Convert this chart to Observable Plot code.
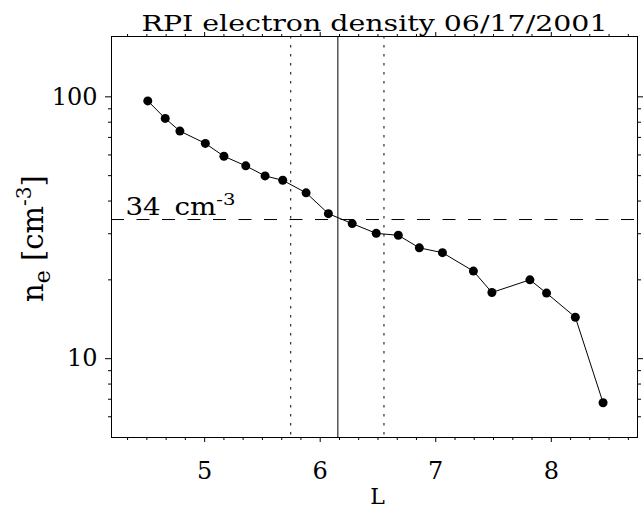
<!DOCTYPE html>
<html><head><meta charset="utf-8">
<script src="https://cdn.jsdelivr.net/npm/d3@7"></script>
<script src="https://cdn.jsdelivr.net/npm/@observablehq/plot@0.6"></script>
<style>html,body{margin:0;padding:0;background:#fff}</style>
</head><body><div id="chart"></div>
<script>
const L  = [4.508, 4.659, 4.786, 5.006, 5.167, 5.356, 5.523, 5.676, 5.878, 6.071, 6.277, 6.485, 6.676, 6.858, 7.058, 7.326, 7.486, 7.815, 7.959, 8.208, 8.448];
const ne = [96.5, 82.7, 74.0, 66.4, 59.3, 54.5, 49.9, 48.0, 43.0, 35.8, 32.8, 30.1, 29.6, 26.5, 25.4, 21.6, 17.9, 20.0, 17.8, 14.4, 6.79];
const refDensity = [34];
const boundaryL = [6.153];
const boundsL = [5.745, 6.552];
const xMajor = [5, 6, 7, 8];
const xMinor = [4.333, 4.5, 4.667, 4.833, 5.167, 5.333, 5.5, 5.667, 5.833, 6.167, 6.333, 6.5, 6.667, 6.833, 7.167, 7.333, 7.5, 7.667, 7.833, 8.167, 8.333, 8.5, 8.667];
const yMajor = [10, 100];
const yMinor = [6, 7, 8, 9, 20, 30, 40, 50, 60, 70, 80, 90];
const title = "RPI electron density 06/17/2001";
const xLabel = "L";
const yLabel = "ne [cm-3]";
const refLabel = "34 cm-3";

const data = L.map((l, i) => ({L: l, ne: ne[i]}));
const blank = () => "";

const chart = Plot.plot({
  width: 643, height: 510,
  marginLeft: 111, marginRight: 6, marginTop: 36, marginBottom: 73,
  style: {fontFamily: "'DejaVu Serif', serif", fontSize: "24px", background: "white", color: "black"},
  x: {domain: [4.194, 8.746]},
  y: {type: "log", domain: [5, 170]},
  marks: [
    Plot.ruleY(refDensity, {stroke: "black", strokeWidth: 1, strokeDasharray: "13,12.5"}),
    Plot.ruleX(boundaryL, {stroke: "black", strokeWidth: 1}),
    Plot.ruleX(boundsL, {stroke: "black", strokeWidth: 1, strokeDasharray: "2.5,6.5"}),
    Plot.line(data, {x: "L", y: "ne", stroke: "black", strokeWidth: 1}),
    Plot.dot(data, {x: "L", y: "ne", r: 4.5, fill: "black"}),
    Plot.frame({stroke: "black"}),
    Plot.axisX({ticks: xMajor, tickSize: 5, tickPadding: 19, fontSize: 24, label: null, tickFormat: d => String(d)}),
    Plot.axisX({ticks: xMinor, tickSize: 3, tickFormat: blank, label: null}),
    Plot.axisX({anchor: "top", ticks: xMajor, tickSize: 5, tickFormat: blank, label: null}),
    Plot.axisX({anchor: "top", ticks: xMinor, tickSize: 3, tickFormat: blank, label: null}),
    Plot.axisY({ticks: yMajor, tickSize: 6, tickPadding: 8, fontSize: 24, label: null, tickFormat: d => String(d)}),
    Plot.axisY({ticks: yMinor, tickSize: 3, tickFormat: blank, label: null}),
    Plot.axisY({anchor: "right", ticks: yMajor, tickSize: 6, tickFormat: blank, label: null}),
    Plot.axisY({anchor: "right", ticks: yMinor, tickSize: 3, tickFormat: blank, label: null}),
    Plot.text([title], {frameAnchor: "top", dy: -6, lineAnchor: "bottom", fontSize: 22}),
    Plot.text([xLabel], {frameAnchor: "bottom", dx: 3, dy: 66, lineAnchor: "bottom", fontSize: 22}),
    Plot.text([yLabel], {frameAnchor: "left", dx: -69, dy: 1.5, rotate: -90, textAnchor: "middle", lineAnchor: "bottom", fontSize: 29}),
    Plot.text(refDensity, {y: d => d, frameAnchor: "left", dx: 14, dy: -5, textAnchor: "start", lineAnchor: "bottom", text: () => refLabel, fontSize: 24})
  ]
});

const NS = "http://www.w3.org/2000/svg";
function rich(t, parts) {
  t.textContent = "";
  for (const [s, size, dy] of parts) {
    const ts = document.createElementNS(NS, "tspan");
    ts.textContent = s;
    ts.setAttribute("font-size", size);
    if (dy) ts.setAttribute("dy", dy);
    t.appendChild(ts);
  }
}
chart.querySelectorAll("text").forEach(t => {
  const s = t.textContent;
  if (s === title) { t.setAttribute("textLength", 466); t.setAttribute("lengthAdjust", "spacingAndGlyphs"); }
  else if (s === yLabel) {
    rich(t, [["n", 29, 0], ["e", 22, 7], [" [cm", 29, -7], ["-3", 20, -12], ["]", 29, 12]]);
  } else if (s === refLabel) {
    rich(t, [["34\u2002cm", 24, 0], ["-3", 17, -10]]);
    t.setAttribute("textLength", 110); t.setAttribute("lengthAdjust", "spacingAndGlyphs");
  }
});
document.getElementById("chart").appendChild(chart);
</script>
</body></html>
